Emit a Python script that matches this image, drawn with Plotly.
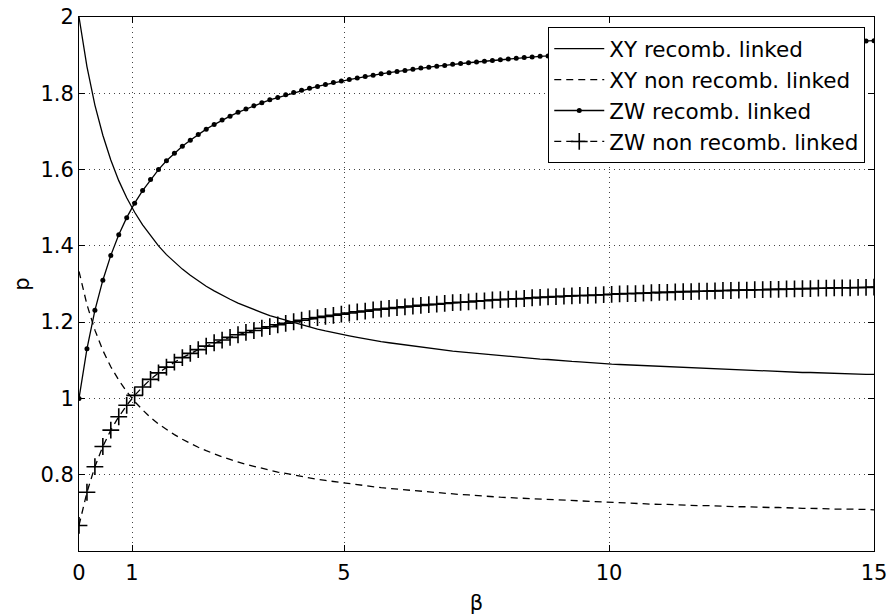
import plotly.graph_objects as go

beta = [0.0, 0.15, 0.3, 0.45, 0.6, 0.75, 0.9, 1.05, 1.2, 1.35, 1.5, 1.65, 1.8, 1.95, 2.1, 2.25,
        2.4, 2.55, 2.7, 2.85, 3.0, 3.15, 3.3, 3.45, 3.6, 3.75, 3.9, 4.05, 4.2, 4.35, 4.5, 4.65,
        4.8, 4.95, 5.1, 5.25, 5.4, 5.55, 5.7, 5.85, 6.0, 6.15, 6.3, 6.45, 6.6, 6.75, 6.9, 7.05,
        7.2, 7.35, 7.5, 7.65, 7.8, 7.95, 8.1, 8.25, 8.4, 8.55, 8.7, 8.85, 9.0, 9.15, 9.3, 9.45,
        9.6, 9.75, 9.9, 10.05, 10.2, 10.35, 10.5, 10.65, 10.8, 10.95, 11.1, 11.25, 11.4, 11.55,
        11.7, 11.85, 12.0, 12.15, 12.3, 12.45, 12.6, 12.75, 12.9, 13.05, 13.2, 13.35, 13.5,
        13.65, 13.8, 13.95, 14.1, 14.25, 14.4, 14.55, 14.7, 14.85, 15.0]

xy_recomb = [2.000, 1.870, 1.769, 1.690, 1.625, 1.571, 1.526, 1.488, 1.455, 1.426, 1.400, 1.377,
             1.357, 1.339, 1.323, 1.308, 1.294, 1.282, 1.270, 1.260, 1.250, 1.241, 1.233, 1.225,
             1.217, 1.211, 1.204, 1.198, 1.192, 1.187, 1.182, 1.177, 1.172, 1.168, 1.164, 1.160,
             1.156, 1.153, 1.149, 1.146, 1.143, 1.140, 1.137, 1.134, 1.132, 1.129, 1.127, 1.124,
             1.122, 1.120, 1.118, 1.116, 1.114, 1.112, 1.110, 1.108, 1.106, 1.105, 1.103, 1.102,
             1.100, 1.099, 1.097, 1.096, 1.094, 1.093, 1.092, 1.090, 1.089, 1.088, 1.087, 1.086,
             1.085, 1.084, 1.083, 1.082, 1.081, 1.080, 1.079, 1.078, 1.077, 1.076, 1.075, 1.074,
             1.074, 1.073, 1.072, 1.071, 1.070, 1.070, 1.069, 1.068, 1.068, 1.067, 1.066, 1.066,
             1.065, 1.064, 1.064, 1.063, 1.063]

xy_nonrecomb = [1.333, 1.246, 1.179, 1.126, 1.083, 1.048, 1.018, 0.992, 0.970, 0.950, 0.933,
                0.918, 0.905, 0.893, 0.882, 0.872, 0.863, 0.854, 0.847, 0.840, 0.833, 0.827,
                0.822, 0.816, 0.812, 0.807, 0.803, 0.799, 0.795, 0.791, 0.788, 0.785, 0.782,
                0.779, 0.776, 0.773, 0.771, 0.768, 0.766, 0.764, 0.762, 0.760, 0.758, 0.756,
                0.754, 0.753, 0.751, 0.749, 0.748, 0.747, 0.745, 0.744, 0.742, 0.741, 0.740,
                0.739, 0.738, 0.736, 0.735, 0.734, 0.733, 0.732, 0.731, 0.730, 0.730, 0.729,
                0.728, 0.727, 0.726, 0.725, 0.725, 0.724, 0.723, 0.722, 0.722, 0.721, 0.720,
                0.720, 0.719, 0.719, 0.718, 0.717, 0.717, 0.716, 0.716, 0.715, 0.715, 0.714,
                0.714, 0.713, 0.713, 0.712, 0.712, 0.711, 0.711, 0.710, 0.710, 0.710, 0.709,
                0.709, 0.708]

zw_recomb = [1.000, 1.130, 1.231, 1.310, 1.375, 1.429, 1.474, 1.512, 1.545, 1.574, 1.600, 1.623,
             1.643, 1.661, 1.677, 1.692, 1.706, 1.718, 1.730, 1.740, 1.750, 1.759, 1.767, 1.775,
             1.783, 1.789, 1.796, 1.802, 1.808, 1.813, 1.818, 1.823, 1.828, 1.832, 1.836, 1.840,
             1.844, 1.847, 1.851, 1.854, 1.857, 1.860, 1.863, 1.866, 1.868, 1.871, 1.873, 1.876,
             1.878, 1.880, 1.882, 1.884, 1.886, 1.888, 1.890, 1.892, 1.894, 1.895, 1.897, 1.898,
             1.900, 1.901, 1.903, 1.904, 1.906, 1.907, 1.908, 1.910, 1.911, 1.912, 1.913, 1.914,
             1.915, 1.916, 1.917, 1.918, 1.919, 1.920, 1.921, 1.922, 1.923, 1.924, 1.925, 1.926,
             1.926, 1.927, 1.928, 1.929, 1.930, 1.930, 1.931, 1.932, 1.932, 1.933, 1.934, 1.934,
             1.935, 1.936, 1.936, 1.937, 1.938]

zw_nonrecomb = [0.667, 0.754, 0.821, 0.874, 0.917, 0.952, 0.982, 1.008, 1.030, 1.050, 1.067,
                1.082, 1.095, 1.107, 1.118, 1.128, 1.137, 1.146, 1.153, 1.160, 1.167, 1.173,
                1.178, 1.184, 1.188, 1.193, 1.197, 1.201, 1.205, 1.209, 1.212, 1.215, 1.218,
                1.221, 1.224, 1.227, 1.229, 1.232, 1.234, 1.236, 1.238, 1.240, 1.242, 1.244,
                1.246, 1.247, 1.249, 1.251, 1.252, 1.253, 1.255, 1.256, 1.258, 1.259, 1.260,
                1.261, 1.262, 1.264, 1.265, 1.266, 1.267, 1.268, 1.269, 1.270, 1.270, 1.271,
                1.272, 1.273, 1.274, 1.275, 1.275, 1.276, 1.277, 1.278, 1.278, 1.279, 1.280,
                1.280, 1.281, 1.281, 1.282, 1.283, 1.283, 1.284, 1.284, 1.285, 1.285, 1.286,
                1.286, 1.287, 1.287, 1.288, 1.288, 1.289, 1.289, 1.290, 1.290, 1.290, 1.291,
                1.291, 1.292]

x_ticks = [0, 1, 5, 10, 15]
x_tick_labels = ["0", "1", "5", "10", "15"]
y_ticks = [0.8, 1.0, 1.2, 1.4, 1.6, 1.8, 2.0]
y_tick_labels = ["0.8", "1", "1.2", "1.4", "1.6", "1.8", "2"]

FONT = "DejaVu Sans, Liberation Sans, Arial, sans-serif"

fig = go.Figure()
fig.add_trace(go.Scatter(x=beta, y=xy_recomb, mode="lines", name="XY recomb. linked",
                         line=dict(color="black", width=1.3)))
fig.add_trace(go.Scatter(x=beta, y=xy_nonrecomb, mode="lines", name="XY non recomb. linked",
                         line=dict(color="black", width=1.3, dash="7px,5px")))
fig.add_trace(go.Scatter(x=beta, y=zw_recomb, mode="lines+markers", name="ZW recomb. linked",
                         line=dict(color="black", width=1.3),
                         marker=dict(symbol="circle", size=5, color="black")))
fig.add_trace(go.Scatter(x=beta, y=zw_nonrecomb, mode="lines+markers", name="ZW non recomb. linked",
                         line=dict(color="black", width=1.3, dash="7px,5px"),
                         marker=dict(symbol="cross-thin", size=12,
                                     line=dict(color="black", width=1.6))))

axis_common = dict(
    showline=True, linecolor="black", linewidth=1, mirror="allticks",
    ticks="inside", ticklen=6, tickcolor="black", tickwidth=1,
    showgrid=True, gridcolor="#444", gridwidth=1, griddash="1px,4px",
    zeroline=False, tickfont=dict(family=FONT, size=21, color="black"),
)

fig.update_xaxes(range=[0, 15], tickvals=x_ticks, ticktext=x_tick_labels,
                 ticklabelstandoff=3,
                 title=dict(text="β", font=dict(family=FONT, size=21, color="black"), standoff=23),
                 **axis_common)
fig.update_yaxes(range=[0.6, 2.0], tickvals=y_ticks, ticktext=y_tick_labels,
                 title=dict(text="p", font=dict(family=FONT, size=21, color="black"), standoff=5),
                 **axis_common)

fig.update_layout(
    width=891, height=615,
    margin=dict(l=79, r=17, t=17, b=64, autoexpand=False),
    plot_bgcolor="white", paper_bgcolor="white",
    font=dict(family=FONT, color="black"),
    legend=dict(x=0.989, y=0.981, xanchor="right", yanchor="top",
                bgcolor="white", bordercolor="black", borderwidth=1,
                font=dict(family=FONT, size=21.5, color="black"),
                tracegroupgap=0, itemwidth=50),
    showlegend=True,
)

fig.write_html("out.html", config={"displayModeBar": False},
               post_script="document.body.style.margin='0';document.body.style.padding='0';")
